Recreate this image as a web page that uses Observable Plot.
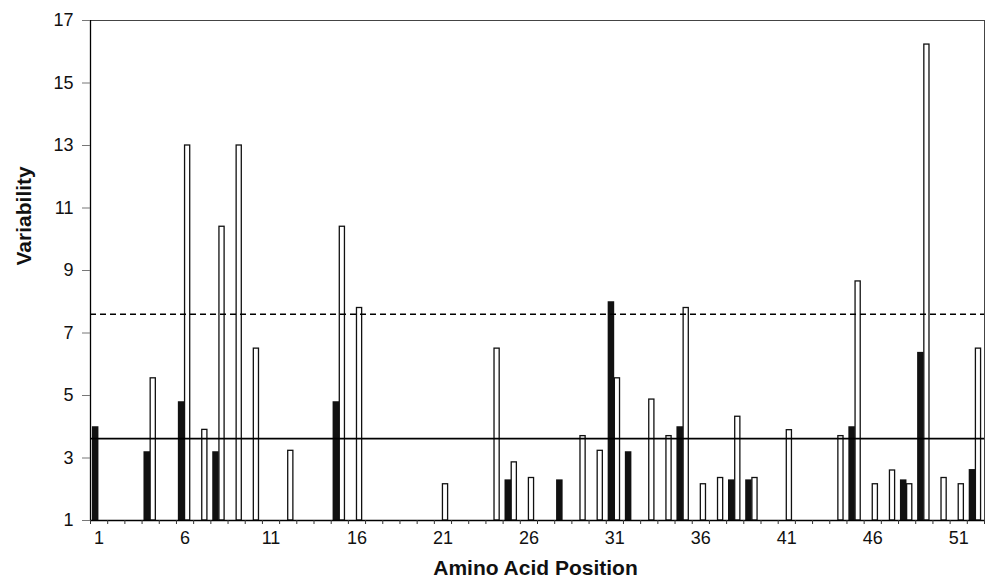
<!DOCTYPE html>
<html><head><meta charset="utf-8">
<script src="https://cdn.jsdelivr.net/npm/d3@7"></script>
<script src="https://cdn.jsdelivr.net/npm/@observablehq/plot@0.6"></script>
<style>html,body{margin:0;padding:0;background:#fff}svg{display:block}</style>
</head><body><div id="chart"></div>
<script>
// Black (filled) bars: amino acid position and variability
const blackPositions = [1, 4, 6, 8, 15, 25, 28, 31, 32, 35, 38, 39, 45, 48, 49, 52];
const blackValues    = [4.0, 3.2, 4.8, 3.2, 4.8, 2.3, 2.3, 8.0, 3.2, 4.0, 2.3, 2.3, 4.0, 2.3, 6.38, 2.63];
// White (open) bars
const whitePositions = [4, 6, 7, 8, 9, 10, 12, 15, 16, 21, 24, 25, 26, 29, 30, 31, 33, 34, 35, 36, 37, 38, 39, 41, 44, 45, 46, 47, 48, 49, 50, 51, 52];
const whiteValues    = [5.55, 13, 3.9, 10.4, 13, 6.5, 3.23, 10.4, 7.8, 2.16, 6.5, 2.86, 2.36, 3.7, 3.23, 5.55, 4.87, 3.7, 7.8, 2.16, 2.36, 4.32, 2.36, 3.89, 3.7, 8.65, 2.16, 2.6, 2.16, 16.23, 2.36, 2.16, 6.5];
// Reference lines
const meanLine = 3.62;
const thresholdLine = 7.6;
// Tick labels
const yTickValues = [1, 3, 5, 7, 9, 11, 13, 15, 17];
const xTickLabels = [1, 6, 11, 16, 21, 26, 31, 36, 41, 46, 51];
const nPositions = 52;
const baseValue = 1;

const black = blackPositions.map((p, i) => ({p, v: blackValues[i]}));
const white = whitePositions.map((p, i) => ({p, v: whiteValues[i]}));
const boundaries = d3.range(0.5, nPositions + 1, 1);

const chart = Plot.plot({
  width: 988, height: 586,
  marginLeft: 90, marginRight: 4, marginTop: 20, marginBottom: 66,
  style: {fontFamily: "'Liberation Sans', Arial, sans-serif", fontSize: "18px", background: "#fff", color: "#000"},
  x: {type: "linear", domain: [0.5, nPositions + 0.5], axis: null},
  y: {domain: [1, 17], axis: null},
  marks: [
    Plot.rect(black, {x1: d => d.p - 0.39, x2: d => d.p - 0.01, y1: baseValue, y2: "v", fill: "#111"}),
    Plot.rect(white, {x1: d => d.p, x2: d => d.p + 0.3, y1: baseValue, y2: "v", fill: "#fff", stroke: "#111", strokeWidth: 1.3}),
    Plot.ruleY([meanLine], {stroke: "#000", strokeWidth: 1.6}),
    Plot.ruleY([thresholdLine], {stroke: "#000", strokeWidth: 1.6, strokeDasharray: "6,4"}),
    Plot.frame({stroke: "#444", strokeWidth: 1}),
    Plot.ruleX([0.5], {stroke: "#000", strokeWidth: 1.3}),
    Plot.ruleY([1], {stroke: "#000", strokeWidth: 1.3}),
    Plot.axisY(yTickValues, {tickSize: 8, stroke: "#777", text: null, label: null}),
    Plot.text(yTickValues, {y: d => d, frameAnchor: "left", dx: -17, textAnchor: "end", fontSize: 18, fill: "#111"}),
    Plot.axisX(boundaries, {tickSize: 4, text: null, label: null, stroke: "#333"}),
    Plot.text(xTickLabels, {x: d => d, frameAnchor: "bottom", dy: 11, lineAnchor: "top", fontSize: 18, fill: "#111"}),
    Plot.text(["Variability"], {frameAnchor: "left", dx: -66, dy: -5, rotate: -90, fontWeight: "bold", fontSize: 21, fill: "#111"}),
    Plot.text(["Amino Acid Position"], {frameAnchor: "bottom", dy: 54, dx: -2, fontWeight: "bold", fontSize: 21, fill: "#111"})
  ]
});
document.getElementById("chart").append(chart);
</script>
</body></html>
